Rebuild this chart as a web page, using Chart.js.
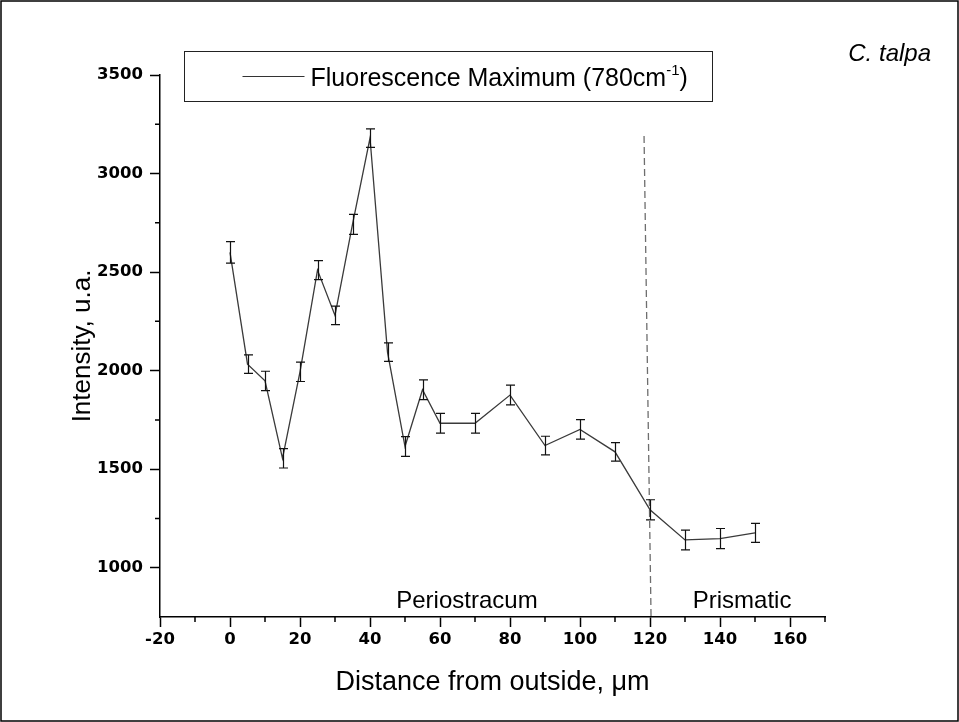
<!DOCTYPE html>
<html><head><meta charset="utf-8">
<script src="https://cdn.jsdelivr.net/npm/chart.js@4.4.0/dist/chart.umd.min.js"></script>
<style>html,body{margin:0;padding:0;background:#fff;overflow:hidden}canvas{display:block}</style>
</head><body>
<canvas id="c" width="959" height="722"></canvas>
<script>
// ---- data ----
const distance = [0, 5, 10, 15, 20, 25, 30, 35, 40, 45, 50, 55, 60, 70, 80, 90, 100, 110, 120, 130, 140, 150];
const intensity = [2600, 2033, 1948, 1555, 1994, 2510, 2280, 2742, 3180, 2094, 1615, 1903, 1733, 1733, 1876, 1620, 1702, 1588, 1294, 1141, 1148, 1177];
const intensityError = [55, 47, 49, 49, 49, 48, 47, 51, 47, 47, 50, 50, 50, 50, 50, 47, 49, 47, 51, 50, 51, 48];
const boundaryX = [118.3, 120.3];
const boundaryY = [3190, 750];
const xTickValues = [-20, 0, 20, 40, 60, 80, 100, 120, 140, 160];
const xMinorTickValues = [-10, 10, 30, 50, 70, 90, 110, 130, 150, 170];
const yTickValues = [1000, 1500, 2000, 2500, 3000, 3500];
const yMinorTickValues = [1250, 1750, 2250, 2750, 3250];
const regionNames = ['Periostracum', 'Prismatic'];
const regionCenters = [67.7, 146.3];
const seriesName = 'Fluorescence Maximum (780cm';
const seriesNameSup = '-1';
const speciesName = 'C. talpa';

const FONT = "'Liberation Sans', Arial, sans-serif";
const TICKFONT = "'DejaVu Sans', sans-serif";

const extras = {
  id: 'extras',
  afterDatasetsDraw(chart) {
    const ctx = chart.ctx, xs = chart.scales.x, ys = chart.scales.y;
    ctx.save();
    ctx.strokeStyle = '#111';
    ctx.lineWidth = 1.2;
    distance.forEach((d, i) => {
      const px = Math.round(xs.getPixelForValue(d)) + 0.5;
      const t = ys.getPixelForValue(intensity[i] + intensityError[i]);
      const b = ys.getPixelForValue(intensity[i] - intensityError[i]);
      ctx.beginPath();
      ctx.moveTo(px, t); ctx.lineTo(px, b);
      ctx.moveTo(px - 4.5, t); ctx.lineTo(px + 4.5, t);
      ctx.moveTo(px - 4.5, b); ctx.lineTo(px + 4.5, b);
      ctx.stroke();
    });
    ctx.restore();
  },
  afterDraw(chart) {
    const ctx = chart.ctx, xs = chart.scales.x, ys = chart.scales.y, ca = chart.chartArea;
    ctx.save();
    // minor ticks
    ctx.strokeStyle = '#000';
    ctx.lineWidth = 1.5;
    ctx.beginPath();
    xMinorTickValues.forEach(v => {
      const px = xs.getPixelForValue(v);
      ctx.moveTo(px, ca.bottom); ctx.lineTo(px, ca.bottom + 5);
    });
    yMinorTickValues.forEach(v => {
      const py = ys.getPixelForValue(v);
      ctx.moveTo(ca.left, py); ctx.lineTo(ca.left - 5, py);
    });
    ctx.stroke();

    // region labels
    ctx.fillStyle = '#000';
    ctx.font = '24px ' + FONT;
    ctx.textAlign = 'center';
    ctx.textBaseline = 'alphabetic';
    const ly = ys.getPixelForValue(795);
    regionNames.forEach((n, i) => ctx.fillText(n, xs.getPixelForValue(regionCenters[i]), ly));

    // legend box
    const bx = ca.left + 24.5, by = 51.5, bw = 528, bh = 50;
    ctx.lineWidth = 1;
    ctx.strokeStyle = '#222';
    ctx.strokeRect(bx, by, bw, bh);
    ctx.strokeStyle = '#333';
    ctx.lineWidth = 1.2;
    ctx.beginPath();
    ctx.moveTo(bx + 58, by + 25); ctx.lineTo(bx + 120, by + 25);
    ctx.stroke();
    ctx.textAlign = 'left';
    ctx.font = '25px ' + FONT;
    let tx = bx + 126;
    const base = by + 34;
    ctx.fillText(seriesName, tx, base);
    tx += ctx.measureText(seriesName).width;
    ctx.font = '15px ' + FONT;
    ctx.fillText(seriesNameSup, tx, base - 11);
    tx += ctx.measureText(seriesNameSup).width;
    ctx.font = '25px ' + FONT;
    ctx.fillText(')', tx, base);

    // species label
    ctx.font = 'italic 24px ' + FONT;
    ctx.textAlign = 'right';
    ctx.fillText(speciesName, 931, 61);

    // outer frame
    ctx.strokeStyle = '#000';
    ctx.lineWidth = 1.5;
    ctx.strokeRect(1, 1, chart.width - 2, chart.height - 2);
    ctx.restore();
  }
};

new Chart(document.getElementById('c'), {
  type: 'line',
  data: {
    datasets: [
      {
        label: seriesName + seriesNameSup + ')',
        data: distance.map((d, i) => ({ x: d, y: intensity[i] })),
        borderColor: '#3a3a3a',
        borderWidth: 1.3,
        pointRadius: 0,
        tension: 0,
        fill: false
      },
      {
        label: 'boundary',
        data: boundaryX.map((d, i) => ({ x: d, y: boundaryY[i] })),
        borderColor: '#6e6e6e',
        borderWidth: 1.3,
        borderDash: [7, 4],
        pointRadius: 0,
        fill: false
      }
    ]
  },
  options: {
    responsive: false,
    animation: false,
    devicePixelRatio: 1,
    layout: { padding: { top: 75, right: 134, left: 0, bottom: 0 } },
    plugins: { legend: { display: false }, tooltip: { enabled: false } },
    scales: {
      x: {
        type: 'linear',
        min: -20, max: 170,
        afterBuildTicks: s => { s.ticks = xTickValues.map(v => ({ value: v })); },
        afterFit: s => { s.height = 105; },
        grid: { drawOnChartArea: false, drawTicks: true, tickLength: 10, tickWidth: 1.5, tickColor: '#000' },
        border: { display: true, color: '#000', width: 1.5 },
        ticks: { color: '#000', padding: 3, maxRotation: 0, autoSkip: false, callback: v => String(v), font: { family: TICKFONT, size: 16.5, weight: 'bold' } },
        title: { display: true, text: 'Distance from outside, \u03bcm', color: '#000', font: { family: FONT, size: 27 }, padding: { top: 0, bottom: 22.8 } }
      },
      y: {
        type: 'linear',
        min: 750, max: 3500,
        afterBuildTicks: s => { s.ticks = yTickValues.map(v => ({ value: v })); },
        afterFit: s => { s.width = 160; },
        grid: { drawOnChartArea: false, drawTicks: true, tickLength: 10, tickWidth: 1.5, tickColor: '#000' },
        border: { display: true, color: '#000', width: 1.5 },
        ticks: { color: '#000', padding: 7, autoSkip: false, callback: v => String(v), font: { family: TICKFONT, size: 16.5, weight: 'bold' } },
        title: { display: true, text: 'Intensity, u.a.', color: '#000', font: { family: FONT, size: 26 }, padding: { top: 67, bottom: 0 } }
      }
    }
  },
  plugins: [extras]
});
</script>
</body></html>
